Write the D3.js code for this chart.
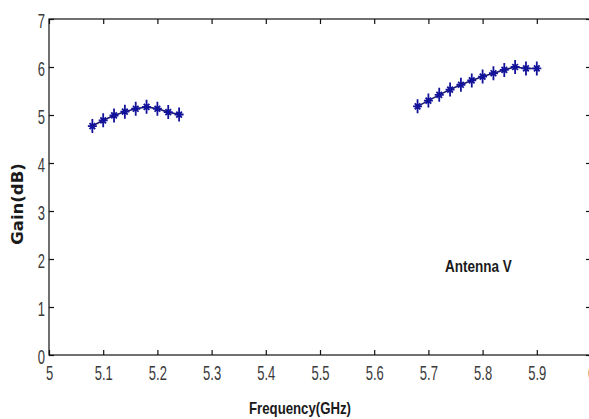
<!DOCTYPE html>
<html>
<head>
<meta charset="utf-8">
<script src="https://cdn.jsdelivr.net/npm/d3@7"></script>
<style>
  html, body { margin: 0; padding: 0; background: #fff; overflow: hidden; }
  svg { display: block; }
</style>
</head>
<body>
<svg id="chart" width="589" height="419"></svg>
<script>
// ---- Data ----
const freqLow  = [5.08, 5.10, 5.12, 5.14, 5.16, 5.18, 5.20, 5.22, 5.24];
const gainLow  = [4.77, 4.89, 4.99, 5.07, 5.13, 5.17, 5.13, 5.06, 5.01];
const freqHigh = [5.68, 5.70, 5.72, 5.74, 5.76, 5.78, 5.80, 5.82, 5.84, 5.86, 5.88, 5.90];
const gainHigh = [5.18, 5.30, 5.42, 5.53, 5.63, 5.72, 5.80, 5.87, 5.94, 6.00, 5.97, 5.97];
const xTicks = [5, 5.1, 5.2, 5.3, 5.4, 5.5, 5.6, 5.7, 5.8, 5.9, 6];
const yTicks = [0, 1, 2, 3, 4, 5, 6, 7];
const xLabel = "Frequency(GHz)";
const yLabel = "Gain(dB)";
const annotation = "Antenna V";

// ---- Layout ----
const svg = d3.select("#chart");
const L = 49, R = 591, T = 19, B = 355;
const x = d3.scaleLinear().domain([5, 6]).range([L, R]);
const y = d3.scaleLinear().domain([0, 7]).range([B, T]);

const tickFont = "'Liberation Sans', Arial, sans-serif";

// frame
svg.append("rect").attr("x", L).attr("y", T).attr("width", R - L).attr("height", B - T)
  .attr("fill", "none").attr("stroke", "#111").attr("stroke-width", 1.2);

// axes (ticks inward)
const xb = svg.append("g").attr("transform", `translate(0,${B})`)
  .call(d3.axisBottom(x).tickValues(xTicks).tickSize(-5).tickPadding(0).tickFormat(d3.format("")));
const xt = svg.append("g").attr("transform", `translate(0,${T})`)
  .call(d3.axisTop(x).tickValues(xTicks).tickSize(-5).tickFormat(""));
const yl = svg.append("g").attr("transform", `translate(${L},0)`)
  .call(d3.axisLeft(y).tickValues(yTicks).tickSize(-5).tickPadding(0).tickFormat(d3.format("d")));
const yr = svg.append("g").attr("transform", `translate(${R},0)`)
  .call(d3.axisRight(y).tickValues(yTicks).tickSize(-5).tickFormat(""));

[xb, xt, yl, yr].forEach(g => {
  g.select(".domain").remove();
  g.selectAll(".tick line").attr("stroke", "#111").attr("stroke-width", 1.2);
});

// tick labels: condensed look
xb.selectAll(".tick text").each(function() {
  d3.select(this).attr("y", null).attr("dy", null)
   .attr("font-family", tickFont).attr("font-size", 21).attr("fill", "#3a3a3a")
   .attr("text-anchor", "middle")
   .attr("transform", `translate(0,25) scale(0.62,1)`);
});
yl.selectAll(".tick text").each(function() {
  d3.select(this).attr("x", null).attr("dy", null)
   .attr("font-family", tickFont).attr("font-size", 21).attr("fill", "#3a3a3a")
   .attr("text-anchor", "end")
   .attr("transform", `translate(-4,8) scale(0.62,1)`);
});

// line + markers
const line = d3.line().x(d => x(d[0])).y(d => y(d[1]));
const series = [d3.zip(freqLow, gainLow), d3.zip(freqHigh, gainHigh)];
series.forEach(s => {
  svg.append("path").datum(s).attr("d", line)
    .attr("fill", "none").attr("stroke", "#1c1c70").attr("stroke-width", 1.6);
  const m = svg.append("g").selectAll("g").data(s).join("g")
    .attr("transform", d => `translate(${x(d[0])},${y(d[1])})`);
  m.append("path")
    .attr("d", "M0,-7V7M-4.5,0H4.5M-2.8,-3L2.8,3M-2.8,3L2.8,-3")
    .attr("stroke", "#12129a").attr("stroke-width", 1.8).attr("fill", "none");
});

// titles
svg.append("text").attr("transform", "translate(300,414) scale(0.8,1)").attr("text-anchor", "middle")
  .attr("font-family", tickFont).attr("font-weight", "bold").attr("font-size", 16.5)
  .attr("fill", "#1a1a1a").text(xLabel);
svg.append("text").attr("transform", "translate(23,204) rotate(-90)").attr("text-anchor", "middle")
  .attr("font-family", "'DejaVu Sans', sans-serif").attr("font-weight", "bold").attr("font-size", 16.5)
  .attr("fill", "#1a1a1a").text(yLabel);
svg.append("text").attr("transform", "translate(445,272) scale(0.82,1)")
  .attr("font-family", tickFont).attr("font-weight", "bold").attr("font-size", 16.5)
  .attr("fill", "#1a1a1a").text(annotation);
</script>
</body>
</html>
